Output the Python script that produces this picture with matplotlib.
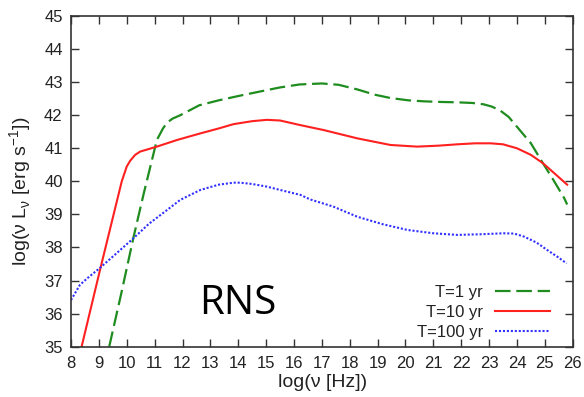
import numpy as np
import matplotlib
matplotlib.use("Agg")
import matplotlib.pyplot as plt

plt.rcParams['font.family'] = ['Liberation Sans', 'DejaVu Sans']
plt.rcParams['mathtext.fontset'] = 'custom'
plt.rcParams['mathtext.rm'] = 'Liberation Sans'

# T = 1 yr
x_1yr = [9.37, 9.8, 10.24, 10.6, 11.08, 11.3, 11.45, 11.65, 11.92, 12.6, 13.3, 14.0,
         14.8, 15.5, 16.2, 17.0, 17.6, 18.27, 18.9, 19.46, 20.1, 20.65, 21.3, 21.86,
         22.4, 22.8, 23.1, 23.4, 23.7, 24.0, 24.5, 24.93, 25.3, 25.69, 25.8]
y_1yr = [35.0, 36.6, 38.3, 39.6, 41.25, 41.6, 41.78, 41.9, 42.0, 42.3, 42.45, 42.58,
         42.72, 42.84, 42.93, 42.96, 42.92, 42.78, 42.62, 42.52, 42.45, 42.42, 42.40, 42.39,
         42.37, 42.33, 42.26, 42.14, 41.95, 41.65, 41.15, 40.55, 40.05, 39.5, 39.3]

# T = 10 yr
x_10yr = [8.38, 9.02, 9.82, 10.0, 10.12, 10.3, 10.48, 11.08, 11.8, 12.64, 13.3, 13.83,
          14.5, 15.03, 15.5, 16.23, 17.07, 18.27, 19.46, 20.42, 21.2, 21.86, 22.5, 23.06,
          23.5, 24.0, 24.5, 24.93, 25.4, 25.8]
y_10yr = [35.0, 37.25, 40.0, 40.45, 40.62, 40.8, 40.9, 41.05, 41.25, 41.45, 41.6, 41.73,
          41.82, 41.86, 41.84, 41.7, 41.55, 41.3, 41.1, 41.05, 41.08, 41.12, 41.15, 41.15,
          41.12, 41.0, 40.8, 40.55, 40.2, 39.9]

# T = 100 yr
x_100yr = [8.0, 8.32, 8.6, 9.02, 9.6, 10.24, 10.8, 11.44, 11.92, 12.64, 13.3, 13.83,
           14.07, 14.5, 15.03, 15.5, 16.23, 16.59, 17.4, 18.27, 19.2, 20.07, 21.0, 21.86,
           22.7, 23.53, 23.9, 24.25, 24.7, 25.09, 25.45, 25.78]
y_100yr = [36.41, 36.87, 37.08, 37.37, 37.8, 38.28, 38.72, 39.13, 39.44, 39.74, 39.9, 39.96,
           39.96, 39.92, 39.84, 39.74, 39.59, 39.45, 39.24, 38.93, 38.7, 38.53, 38.43, 38.38,
           38.4, 38.43, 38.42, 38.33, 38.15, 37.92, 37.72, 37.52]

labels = ["T=1 yr", "T=10 yr", "T=100 yr"]
x_ticks = list(range(8, 27))
y_ticks = list(range(35, 46))

fig = plt.figure(figsize=(5.84, 3.97), dpi=100)
ax = fig.add_axes([0.1216, 0.1267, 0.8591, 0.833])

ax.plot(x_1yr, y_1yr, color='#1e8c1e', lw=1.6, dashes=(7, 2.6), label=labels[0])
ax.plot(x_10yr, y_10yr, color='#ff2020', lw=1.5, label=labels[1])
ax.plot(x_100yr, y_100yr, color='#3030ff', lw=1.5, dashes=(1, 0.9), label=labels[2])

ax.set_xlim(8, 26)
ax.set_ylim(35, 45)
ax.set_xticks(x_ticks)
ax.set_yticks(y_ticks)
ax.tick_params(direction='in', length=6, width=1, colors='#333333', labelsize=12,
               top=True, right=True, labelcolor='#222222')
ax.tick_params(axis='x', pad=7)
ax.tick_params(axis='y', pad=6)
for s in ax.spines.values():
    s.set_linewidth(1.2)
    s.set_color('#333333')

# axis titles
fig.text(0.553, 0.037, "log(ν [Hz])", ha='center', va='center', fontsize=14, color='#222222')
fig.text(0.036, 0.519, "log(ν L$_\\mathregular{ν}$ [erg s$^\\mathregular{-1}$])",
         ha='center', va='center', rotation=90, fontsize=14, color='#222222')

ax.text(12.6, 36.0, "RNS", fontsize=29, family='Open Sans', color='black')

leg = ax.legend(loc='lower right', bbox_to_anchor=(0.954, 0.02), frameon=False,
                markerfirst=False, fontsize=12, handlelength=3.25, handletextpad=0.75,
                labelspacing=0.3, borderaxespad=0, borderpad=0)
for t in leg.get_texts():
    t.set_color('#222222')

fig.savefig("out.png", dpi=100)
